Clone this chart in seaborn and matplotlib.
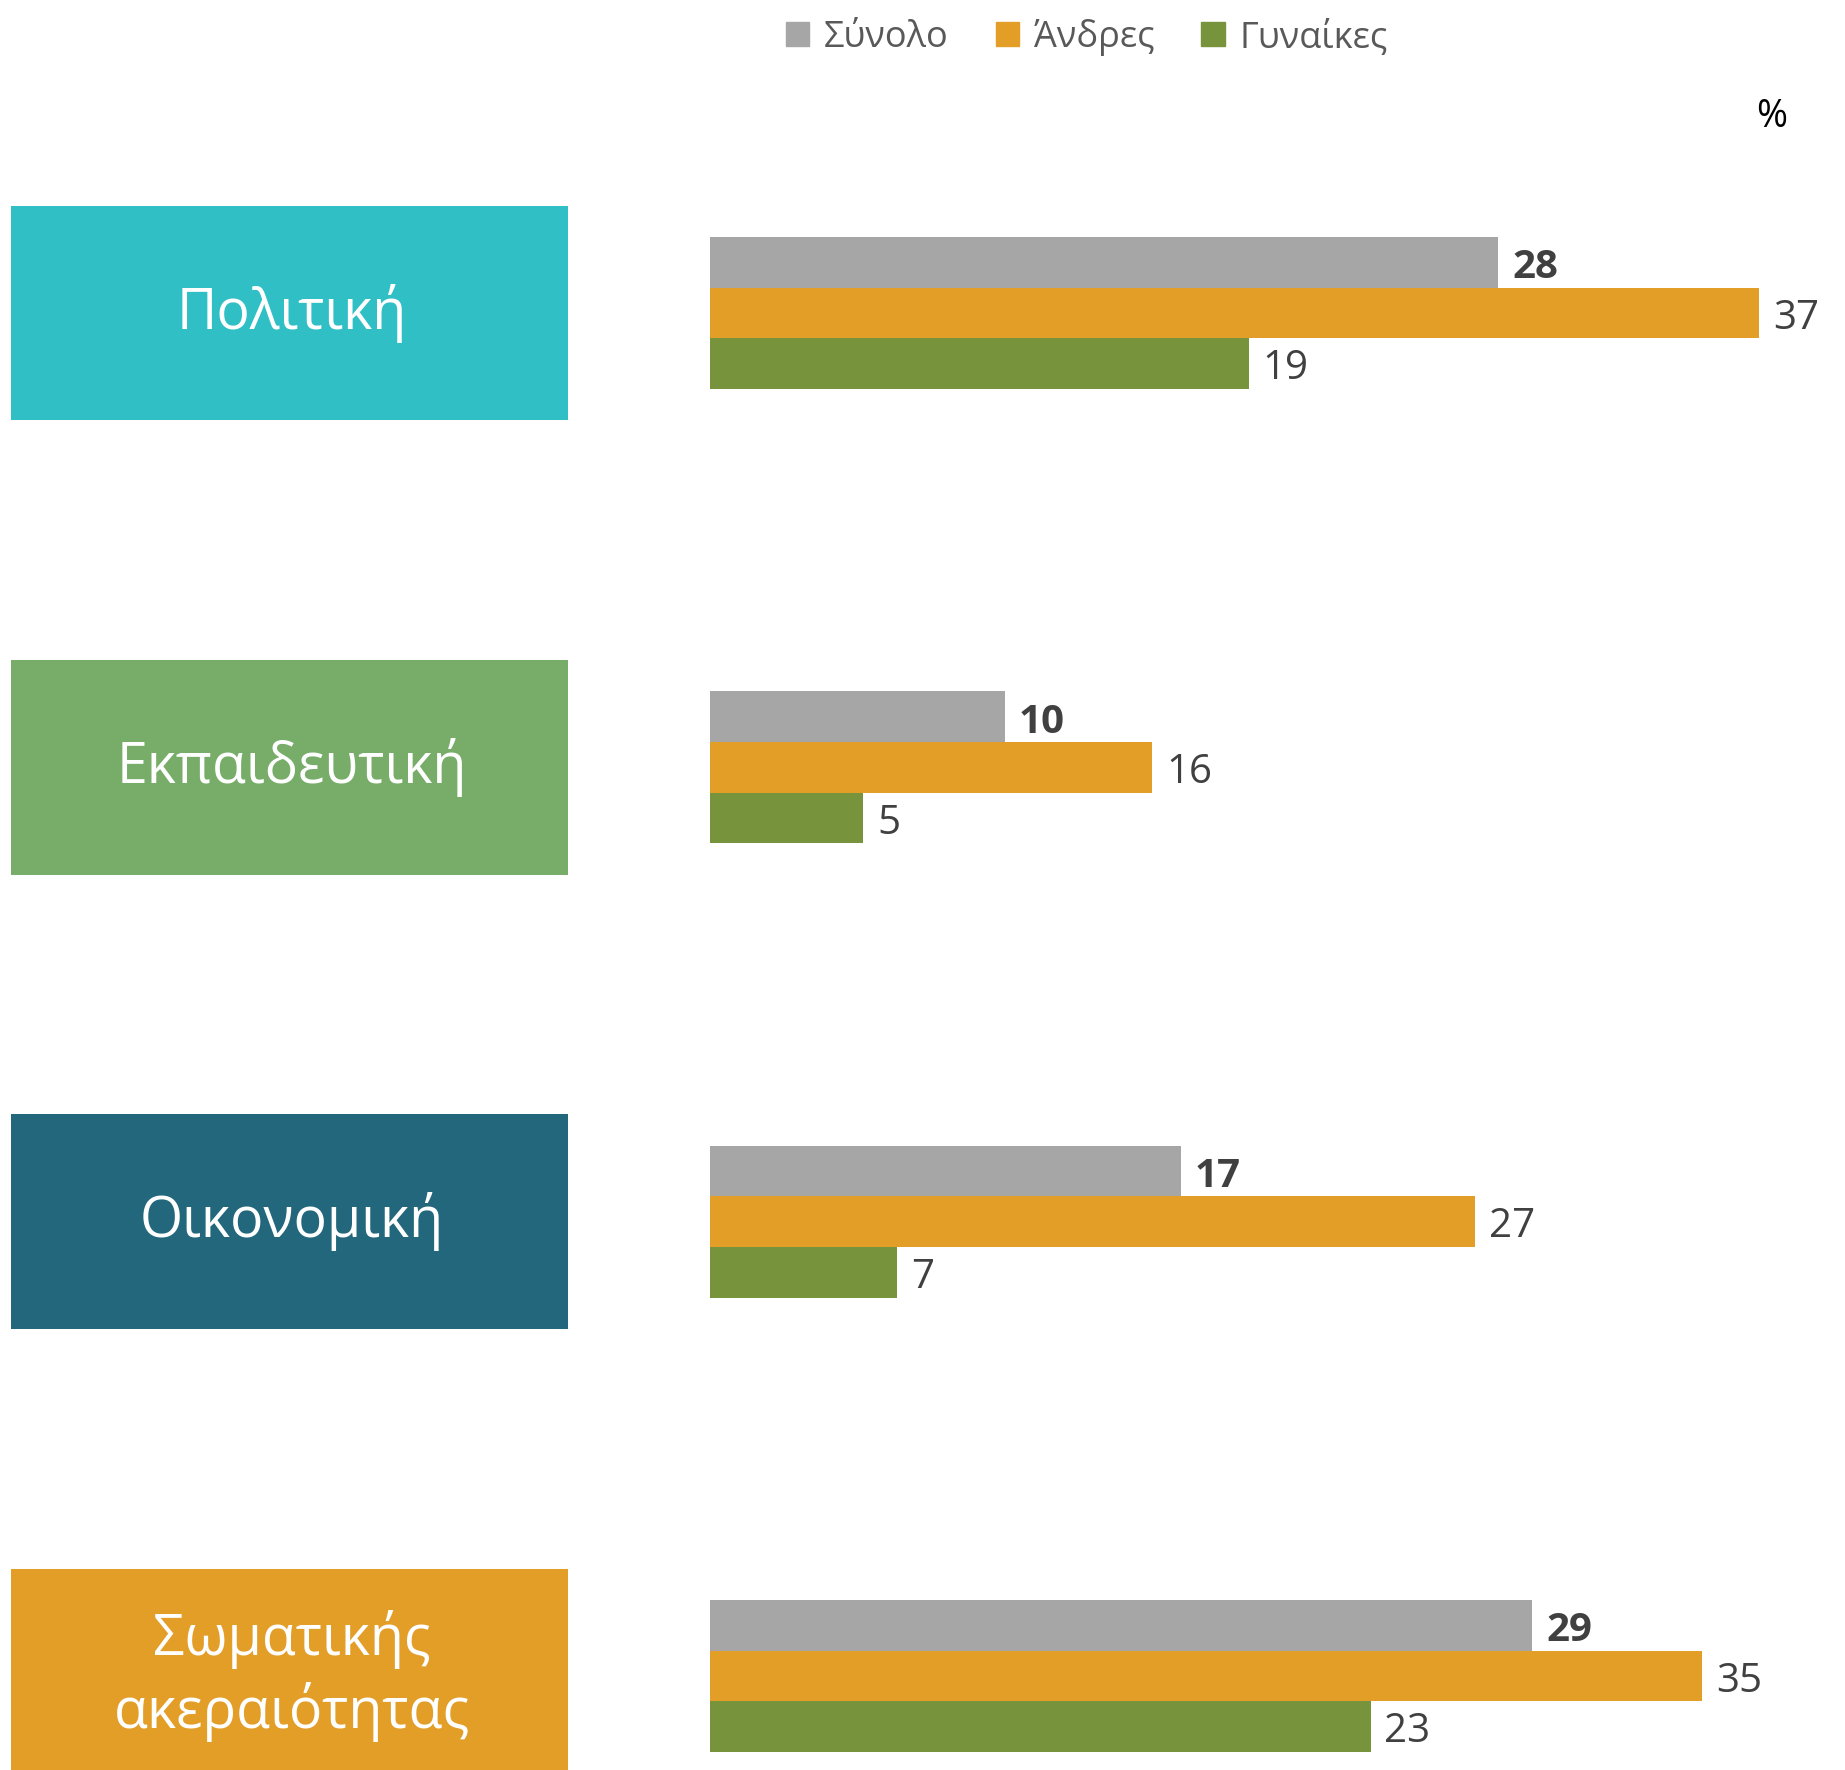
import matplotlib
matplotlib.use("Agg")
import matplotlib.pyplot as plt
import matplotlib.transforms as mtransforms
from matplotlib.patches import Rectangle
import pandas as pd
import seaborn as sns

# datos del gráfico
categorias = ["Πολιτική", "Εκπαιδευτική", "Οικονομική", "Σωματικής\nακεραιότητας"]
colores_categorias = ["#31BFC6", "#77AD69", "#23677C", "#E39E28"]
series = ["Σύνολο", "Άνδρες", "Γυναίκες"]
colores_series = ["#A6A6A6", "#E39E28", "#77933C"]
sinolo = [27.8, 10.4, 16.6, 29.0]
andres = [37.0, 15.6, 27.0, 35.0]
gynaikes = [19.0, 5.4, 6.6, 23.3]

sns.set_theme(style="white")
plt.rcParams["font.family"] = ["Open Sans", "DejaVu Sans"]

# tabla larga para seaborn
filas = []
for serie, valores in zip(series, [sinolo, andres, gynaikes]):
    for cat, v in zip(categorias, valores):
        filas.append({"categoria": cat, "serie": serie, "valor": v})
df = pd.DataFrame(filas)

fig = plt.figure(figsize=(18.45, 17.7), dpi=100)
x0 = 710 / 1845
ax = fig.add_axes([x0, 0, 1 - x0, 1])

sns.barplot(data=df, y="categoria", x="valor", hue="serie", orient="h",
            order=categorias, hue_order=series, palette=colores_series,
            saturation=1, width=0.334, dodge=True, linewidth=0, ax=ax)

ax.set_xlim(0, (1845 - 710) / 28.35)
ax.set_ylim(3.207, -0.689)
ax.axis("off")

# etiquetas de valores (un poco por debajo del centro de la barra)
for i, cont in enumerate(ax.containers):
    for b in cont:
        yc = b.get_y() + b.get_height() / 2
        ax.annotate(f"{b.get_width():.0f}", (b.get_width(), yc),
                    xytext=(10, -4), textcoords="offset points",
                    ha="left", va="center", fontsize=29, color="#404040",
                    fontweight="bold" if i == 0 else "normal",
                    annotation_clip=False)

# cajas de categorías a la izquierda
trans = mtransforms.blended_transform_factory(fig.transFigure, ax.transData)
alto = 0.472
for i, (cat, col) in enumerate(zip(categorias, colores_categorias)):
    rect = Rectangle((0.006, i - alto / 2), 0.302, alto, transform=trans,
                     facecolor=col, edgecolor="none", clip_on=False)
    fig.add_artist(rect)
    fig.text(0.158, i, cat, transform=trans, ha="center", va="center",
             color="white", fontsize=40, linespacing=1.3)

# leyenda
ax.get_legend().remove()
handles = [Rectangle((0, 0), 1, 1, color=c) for c in colores_series]
fig.legend(handles, series, loc="center", bbox_to_anchor=(0.589, 0.979), ncol=3,
           frameon=False, fontsize=26, handlelength=0.65, handleheight=0.65,
           handletextpad=0.4, columnspacing=1.3, labelcolor="#595959")

fig.text(0.960, 0.934, "%", ha="center", va="center", fontsize=27, color="black")

fig.savefig("out.png", dpi=100, facecolor="white")
